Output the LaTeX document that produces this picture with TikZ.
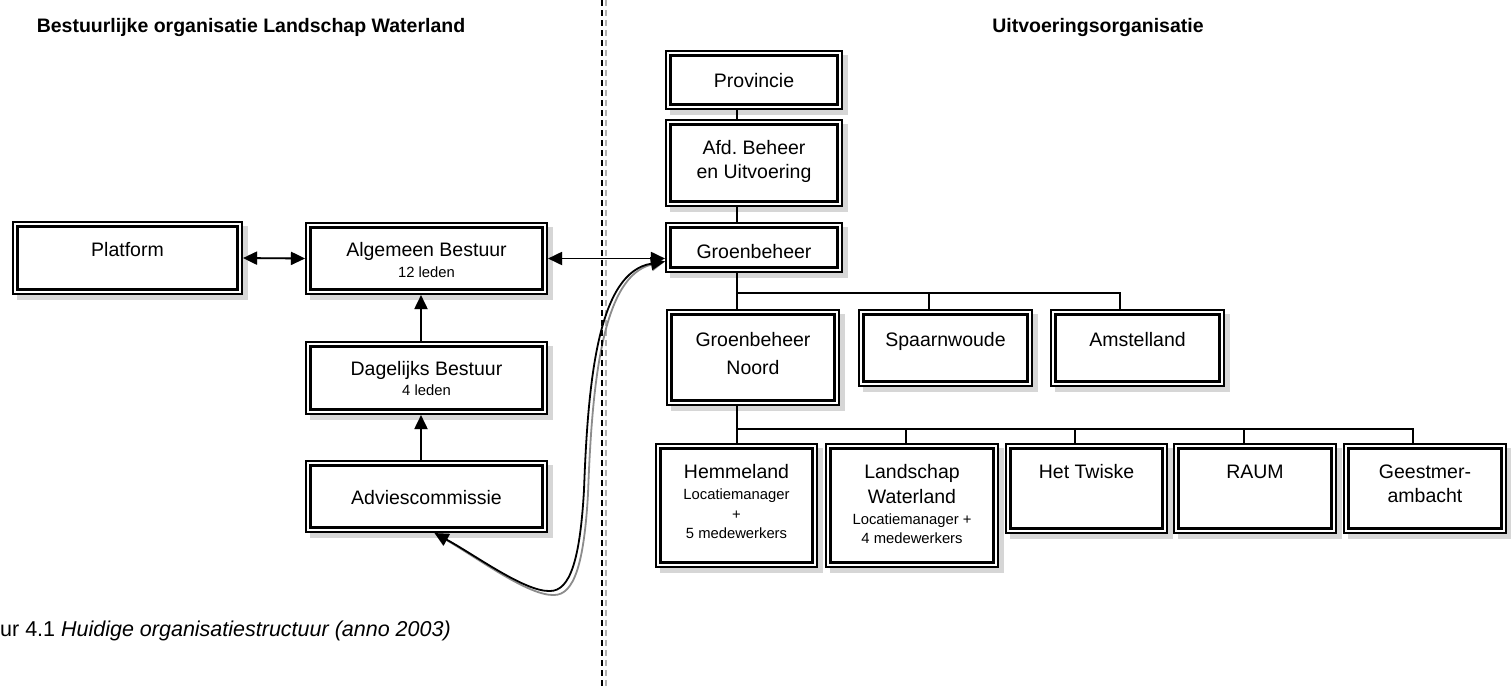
\documentclass[tikz,border=0pt]{standalone}
\usepackage{fontspec}
\setmainfont{Liberation Sans}
\usetikzlibrary{arrows.meta,calc}
\frenchspacing
\pgfdeclarelayer{back}
\pgfdeclarelayer{bg}
\pgfsetlayers{back,bg,main}
\newcommand\OBox[5]{%
  \begin{pgfonlayer}{bg}\fill[shd] ({#2+5},{#3+5}) rectangle ({#4+5},{#5+5});\end{pgfonlayer}
  \node[obox, minimum width=#4pt-#2pt-6.6pt, minimum height=#5pt-#3pt-6.6pt] (#1) at ({(#2+#4)/2},{(#3+#5)/2}) {};}
\newcommand\TLine[5]{\node[#4] (#1) at (#2,#3) {#5};}
\begin{document}
\begin{tikzpicture}[x=1pt,y=-1pt,
  obox/.style={draw=black, line width=2.3pt, double=white, double distance=2.1pt, fill=white, inner sep=0pt, outer sep=3.35pt},
  shd/.style={fill=black!16},
  big/.style={font=\fontsize{19.5}{23}\selectfont, inner sep=0pt, anchor=base},
  sml/.style={font=\fontsize{14.8}{18}\selectfont, inner sep=0pt, anchor=base},
  ttl/.style={font=\bfseries\fontsize{19.5}{23}\selectfont, inner sep=0pt, anchor=base},
  conn/.style={line width=1.8pt, black},
  connsh/.style={line width=1.8pt, black!25, shift={(4,4)}},
  tipa/.style={-{Triangle[length=14pt,width=13pt]}},
  tipb/.style={{Triangle[length=14pt,width=13pt]}-{Triangle[length=14pt,width=13pt]}},
  divl/.style={line width=1.3pt, dash pattern=on 6pt off 4pt},
]
\useasboundingbox (0,0) rectangle (1511,686);
\begin{pgfonlayer}{back}
\fill[white] (0,0) rectangle (1511,686);
\end{pgfonlayer}

% divider
\coordinate (dtop) at (602,0);
\coordinate (dbot) at (602,686);
\begin{pgfonlayer}{bg}
\draw[divl, black!30] ($(dtop)+(4,0)$) -- ($(dbot)+(4,0)$);
\end{pgfonlayer}
\draw[divl, black] (dtop) -- (dbot);

% boxes
\OBox{pl}{12}{221}{243}{295}
\OBox{ab}{305}{222}{548}{295}
\OBox{db}{305}{341}{548}{415}
\OBox{ac}{305}{460}{548}{533}
\OBox{pr}{665}{50}{843}{110}
\OBox{af}{665}{119}{843}{207}
\OBox{gr}{665}{222}{843}{273}
\OBox{gn}{666}{309}{840}{406}
\OBox{sp}{858}{309}{1033}{387}
\OBox{am}{1050}{309}{1225}{387}
\OBox{he}{655}{443}{818}{568}
\OBox{lw}{825}{443}{999}{568}
\OBox{tw}{1005}{443}{1168}{534}
\OBox{ra}{1173}{443}{1337}{534}
\OBox{ge}{1343}{443}{1507}{534}

% coordinates for connector lines
\coordinate (ln) at (737,0);
\coordinate (ax) at (421,0);
\coordinate (bus1) at (737,293);
\coordinate (d2) at (929,0);
\coordinate (d3) at (1120,0);
\coordinate (bus2) at (737,429);
\coordinate (e2) at (906,0);
\coordinate (e3) at (1075,0);
\coordinate (e4) at (1244,0);
\coordinate (e5) at (1413,0);
\coordinate (cs) at ($(ac.south)+(8,0)$);
\coordinate (ce) at ($(gr.west)+(0,14)$);

% connector shadows
\begin{pgfonlayer}{bg}
\draw[connsh] (pr.south -| ln) -- (af.north -| ln);
\draw[connsh] (af.south -| ln) -- (gr.north -| ln);
\draw[connsh] (gr.south -| ln) -- (gn.north -| ln);
\draw[connsh] (bus1) -| (sp.north -| d2);
\draw[connsh] (bus1) -| (am.north -| d3);
\draw[connsh] (gn.south -| ln) -- (he.north -| ln);
\draw[connsh] (bus2) -| (lw.north -| e2);
\draw[connsh] (bus2) -| (tw.north -| e3);
\draw[connsh] (bus2) -| (ra.north -| e4);
\draw[connsh] (bus2) -| (ge.north -| e5);
\draw[connsh, tipb] (pl.east) -- (ab.west);
\draw[connsh, tipb] (ab.east) -- (gr.west |- ab.east);
\draw[connsh, tipa] (db.north -| ax) -- (ab.south -| ax);
\draw[connsh, tipa] (ac.north -| ax) -- (db.south -| ax);
\draw[connsh, black!45, tipb] (cs) .. controls (475,555) and (525,592) .. (550,591)
  .. controls (570,591) and (580,560) .. (584,490)
  .. controls (588,380) and (598,272) .. (ce);
\end{pgfonlayer}

% connectors
\draw[conn] (pr.south -| ln) -- (af.north -| ln);
\draw[conn] (af.south -| ln) -- (gr.north -| ln);
\draw[conn] (gr.south -| ln) -- (gn.north -| ln);
\draw[conn] (bus1) -| (sp.north -| d2);
\draw[conn] (bus1) -| (am.north -| d3);
\draw[conn] (gn.south -| ln) -- (he.north -| ln);
\draw[conn] (bus2) -| (lw.north -| e2);
\draw[conn] (bus2) -| (tw.north -| e3);
\draw[conn] (bus2) -| (ra.north -| e4);
\draw[conn] (bus2) -| (ge.north -| e5);
\draw[conn, tipb] (pl.east) -- (ab.west);
\draw[conn, tipb] (ab.east) -- (gr.west |- ab.east);
\draw[conn, tipa] (db.north -| ax) -- (ab.south -| ax);
\draw[conn, tipa] (ac.north -| ax) -- (db.south -| ax);
\draw[conn, tipb] (cs) .. controls (475,555) and (525,592) .. (550,591)
  .. controls (570,591) and (580,560) .. (584,490)
  .. controls (588,380) and (598,272) .. (ce);

% texts
\TLine{t1}{251}{32}{ttl}{Bestuurlijke organisatie Landschap Waterland}
\TLine{t2}{1098}{32}{ttl}{Uitvoeringsorganisatie}
\TLine{cap}{0}{636}{font=\fontsize{21.5}{26}\selectfont, inner sep=0pt, anchor=base west}{ur 4.1 \textit{Huidige organisatiestructuur (anno 2003)}}

\TLine{plT}{127.5}{256}{big}{Platform}
\TLine{abT}{426.5}{256}{big}{Algemeen Bestuur}
\TLine{abS}{426.5}{277}{sml}{12 leden}
\TLine{dbT}{426.5}{375}{big}{Dagelijks Bestuur}
\TLine{dbS}{426.5}{395}{sml}{4 leden}
\TLine{acT}{426.5}{504}{big}{Adviescommissie}
\TLine{prT}{754}{87}{big}{Provincie}
\TLine{afT}{754}{154}{big}{Afd. Beheer}
\TLine{afU}{754}{178}{big}{en Uitvoering}
\TLine{grT}{754}{258}{big}{Groenbeheer}
\TLine{gnT}{753}{346}{big}{Groenbeheer}
\TLine{gnU}{753}{374}{big}{Noord}
\TLine{spT}{945.5}{346}{big}{Spaarnwoude}
\TLine{amT}{1137.5}{346}{big}{Amstelland}
\TLine{heT}{736.5}{478}{big}{Hemmeland}
\TLine{heS}{736.5}{499}{sml}{Locatiemanager}
\TLine{heP}{736.5}{519}{sml}{+}
\TLine{heM}{736.5}{538}{sml}{5 medewerkers}
\TLine{lwT}{912}{478}{big}{Landschap}
\TLine{lwU}{912}{503}{big}{Waterland}
\TLine{lwS}{912}{524}{sml}{Locatiemanager +}
\TLine{lwM}{912}{543}{sml}{4 medewerkers}
\TLine{twT}{1086.5}{478}{big}{Het Twiske}
\TLine{raT}{1255}{478}{big}{RAUM}
\TLine{geT}{1425}{478}{big}{Geestmer-}
\TLine{geU}{1425}{502}{big}{ambacht}
\end{tikzpicture}
\end{document}
